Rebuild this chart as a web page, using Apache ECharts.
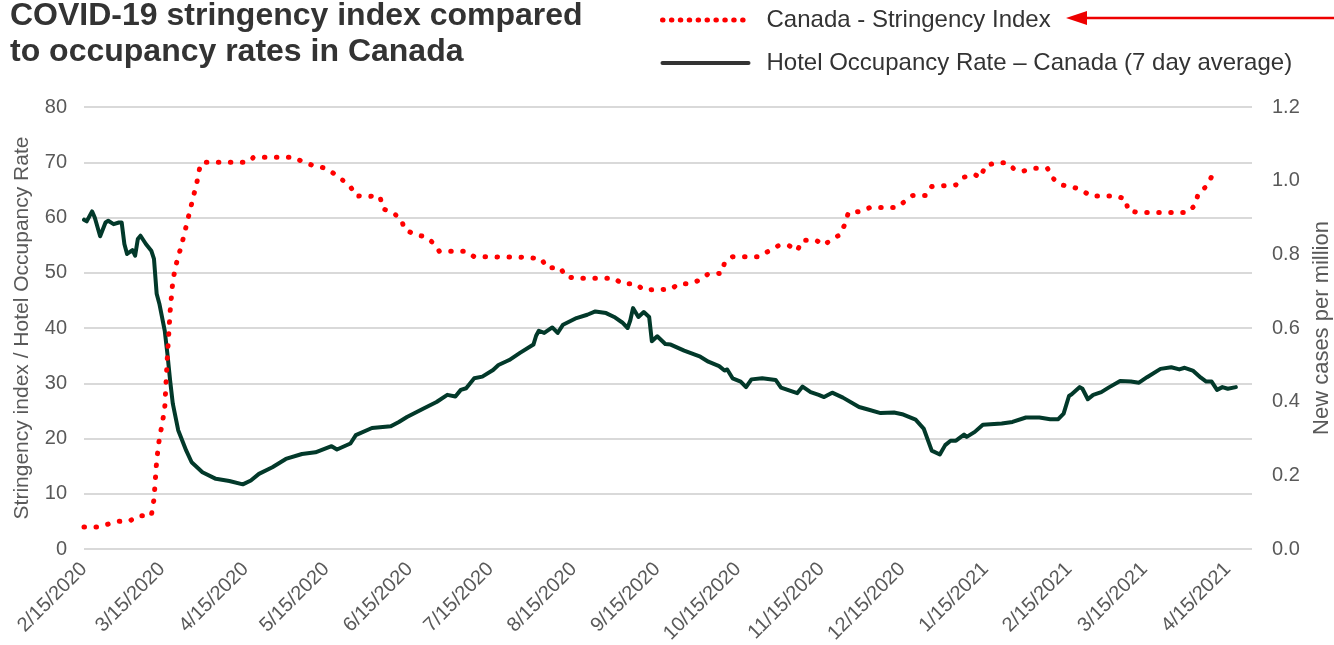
<!DOCTYPE html>
<html>
<head>
<meta charset="utf-8">
<script src="https://cdn.jsdelivr.net/npm/echarts@6/dist/echarts.min.js"></script>
<style>
  html, body { margin: 0; padding: 0; background: #ffffff; }
  #chart { width: 1334px; height: 645px; }
</style>
</head>
<body>
<div id="chart"></div>
<script>
// ---- Data ----
const tickDates = ['2020-02-15','2020-03-15','2020-04-15','2020-05-15','2020-06-15','2020-07-15','2020-08-15',
  '2020-09-15','2020-10-15','2020-11-15','2020-12-15','2021-01-15','2021-02-15','2021-03-15','2021-04-15'];

const stringencyDates = ['2020-02-15','2020-02-20','2020-02-24','2020-02-28','2020-03-03','2020-03-06','2020-03-11',
  '2020-03-12','2020-03-13','2020-03-14','2020-03-15','2020-03-16','2020-03-17','2020-03-18','2020-03-19','2020-03-20',
  '2020-03-21','2020-03-22','2020-03-23','2020-03-24','2020-03-25','2020-03-26','2020-03-27','2020-03-28','2020-03-29',
  '2020-03-30','2020-04-16','2020-04-18','2020-05-03','2020-05-07','2020-05-11','2020-05-15','2020-05-18','2020-05-21',
  '2020-05-24','2020-05-26','2020-06-04','2020-06-05','2020-06-09','2020-06-12','2020-06-13','2020-06-17','2020-06-21',
  '2020-06-24','2020-06-26','2020-07-06','2020-07-09','2020-07-28','2020-08-03','2020-08-05','2020-08-10','2020-08-12',
  '2020-08-16','2020-08-30','2020-09-02','2020-09-07','2020-09-10','2020-09-20','2020-09-23','2020-09-27','2020-10-01',
  '2020-10-04','2020-10-09','2020-10-10','2020-10-13','2020-10-23','2020-10-26','2020-10-30','2020-11-03','2020-11-06',
  '2020-11-08','2020-11-13','2020-11-16','2020-11-19','2020-11-22','2020-11-24','2020-11-25','2020-11-30','2020-12-03',
  '2020-12-13','2020-12-16','2020-12-19','2020-12-24','2020-12-26','2021-01-04','2021-01-07','2021-01-11','2021-01-13',
  '2021-01-15','2021-01-19','2021-01-23','2021-01-26','2021-01-29','2021-02-02','2021-02-07','2021-02-09','2021-02-12',
  '2021-02-16','2021-02-20','2021-02-23','2021-03-04','2021-03-08','2021-03-09','2021-03-13','2021-03-31','2021-04-03',
  '2021-04-04','2021-04-07','2021-04-09','2021-04-12'];
const stringencyValues = [4.0,4.0,4.5,5.0,5.1,6.0,6.0,
  9.0,16.0,20.0,22.5,25.5,35.0,43.0,48.5,51.0,
  53.0,54.5,56.5,58.5,60.5,62.5,64.5,66.5,69.0,
  70.0,70.0,70.9,70.9,69.9,69.3,68.9,67.9,66.8,
  65.6,63.9,63.8,61.6,60.8,59.6,57.9,56.9,56.5,
  55.3,53.9,53.9,52.9,52.8,52.5,50.9,50.9,49.3,
  49.0,49.0,48.0,48.0,46.9,47.0,48.0,48.0,48.7,
  49.8,49.9,51.8,52.9,52.9,53.8,54.9,54.9,54.0,
  55.9,55.9,55.0,56.1,56.9,59.1,60.9,61.1,61.8,
  61.8,62.9,64.0,64.0,65.6,65.9,67.3,67.8,67.2,
  69.4,69.9,69.9,68.6,68.4,68.9,68.9,67.1,65.9,
  65.6,64.9,63.9,63.9,63.4,61.2,60.9,60.9,62.3,
  64.4,65.6,67.4,67.9];

const hotelDates = ['2020-02-15','2020-02-16','2020-02-18','2020-02-19','2020-02-21','2020-02-23','2020-02-24','2020-02-26',
  '2020-02-28','2020-02-29','2020-03-01','2020-03-02','2020-03-04','2020-03-05','2020-03-06','2020-03-07','2020-03-09',
  '2020-03-11','2020-03-12','2020-03-13','2020-03-14','2020-03-16','2020-03-17','2020-03-18','2020-03-19','2020-03-21',
  '2020-03-24','2020-03-26','2020-03-30','2020-04-04','2020-04-09','2020-04-14','2020-04-17','2020-04-20','2020-04-25',
  '2020-04-30','2020-05-06','2020-05-11','2020-05-17','2020-05-19','2020-05-24','2020-05-26','2020-06-01','2020-06-08',
  '2020-06-11','2020-06-14','2020-06-20','2020-06-25','2020-06-29','2020-07-02','2020-07-04','2020-07-06','2020-07-09',
  '2020-07-12','2020-07-16','2020-07-18','2020-07-22','2020-07-26','2020-07-31','2020-08-01','2020-08-02','2020-08-04',
  '2020-08-07','2020-08-09','2020-08-11','2020-08-16','2020-08-20','2020-08-23','2020-08-27','2020-08-30','2020-09-02',
  '2020-09-04','2020-09-05','2020-09-06','2020-09-08','2020-09-10','2020-09-12','2020-09-13','2020-09-15','2020-09-18',
  '2020-09-20','2020-09-25','2020-10-01','2020-10-04','2020-10-08','2020-10-10','2020-10-11','2020-10-13','2020-10-16',
  '2020-10-18','2020-10-20','2020-10-24','2020-10-29','2020-10-31','2020-11-06','2020-11-08','2020-11-11','2020-11-14',
  '2020-11-16','2020-11-19','2020-11-23','2020-11-29','2020-12-02','2020-12-07','2020-12-12','2020-12-15','2020-12-20',
  '2020-12-23','2020-12-26','2020-12-29','2020-12-31','2021-01-02','2021-01-04','2021-01-07','2021-01-08','2021-01-11',
  '2021-01-14','2021-01-21','2021-01-25','2021-01-30','2021-02-04','2021-02-08','2021-02-11','2021-02-13','2021-02-15',
  '2021-02-16','2021-02-19','2021-02-20','2021-02-22','2021-02-24','2021-02-27','2021-03-02','2021-03-06','2021-03-10',
  '2021-03-13','2021-03-16','2021-03-21','2021-03-25','2021-03-28','2021-03-30','2021-04-02','2021-04-05','2021-04-07',
  '2021-04-09','2021-04-11','2021-04-13','2021-04-15','2021-04-18'];
const hotelValues = [59.6,59.3,61.1,60.0,56.6,59.1,59.4,58.8,
  59.1,59.1,55.2,53.4,54.1,53.1,56.1,56.7,55.2,
  54.0,52.5,46.2,44.4,39.5,35.3,30.5,26.3,21.5,
  17.8,15.7,13.9,12.7,12.3,11.7,12.4,13.6,14.8,
  16.3,17.2,17.5,18.6,18.0,19.1,20.6,21.9,22.2,
  23.0,23.9,25.4,26.6,27.9,27.6,28.8,29.1,30.9,
  31.2,32.4,33.3,34.2,35.5,37.0,38.6,39.5,39.1,
  40.1,39.1,40.6,41.8,42.4,43.0,42.7,42.0,41.0,
  40.0,41.4,43.6,42.0,42.9,42.0,37.6,38.5,37.1,
  37.0,35.9,34.8,33.9,33.1,32.3,32.5,30.9,30.3,
  29.3,30.7,30.9,30.6,29.2,28.2,29.4,28.4,27.9,
  27.5,28.3,27.4,25.7,25.3,24.6,24.7,24.4,23.4,
  21.8,17.8,17.1,18.8,19.6,19.6,20.7,20.3,21.2,
  22.5,22.7,23.0,23.8,23.8,23.5,23.5,24.5,27.7,
  28.0,29.3,29.0,27.1,27.9,28.4,29.3,30.4,30.3,
  30.1,31.1,32.6,32.9,32.5,32.8,32.3,31.0,30.3,
  30.3,28.8,29.3,29.0,29.3];

const axisStart = '2020-02-15';
const axisEnd = '2021-04-24';

// ---- helpers ----
function ts(s) { const p = s.split('-').map(Number); return new Date(p[0], p[1] - 1, p[2]).getTime(); }
function zip(dates, vals) { return dates.map((d, i) => [ts(d), vals[i]]); }
function fmtDate(v) { const d = new Date(v); return (d.getMonth() + 1) + '/' + d.getDate() + '/' + d.getFullYear(); }

const FONT = '"Liberation Sans", Arial, sans-serif';
const GREY = '#595959';
const RED = '#ff0000';
const GREEN = '#02392a';
const NAME_S = 'Canada - Stringency Index';
const NAME_H = 'Hotel Occupancy Rate \u2013 Canada (7 day average)';

const chart = echarts.init(document.getElementById('chart'), null, { renderer: 'canvas' });
const tickTs = tickDates.map(ts);

chart.setOption({
  animation: false,
  backgroundColor: '#ffffff',
  textStyle: { fontFamily: FONT },
  title: {
    text: 'COVID-19 stringency index compared\nto occupancy rates in Canada',
    left: 10, top: -2, padding: 0,
    textStyle: { fontFamily: FONT, fontSize: 32, fontWeight: 'bold', color: '#333333', lineHeight: 36 }
  },
  legend: {
    orient: 'vertical',
    left: 655, top: 2,
    itemWidth: 86, itemHeight: 14, itemGap: 17,
    textStyle: { fontFamily: FONT, fontSize: 24, color: '#333333', lineHeight: 26, padding: [0, 0, 0, 13] },
    data: [
      { name: NAME_S, itemStyle: { opacity: 0 }, lineStyle: { color: RED, width: 5, type: [0.5, 8.4], cap: 'round' } },
      { name: NAME_H, itemStyle: { opacity: 0 }, lineStyle: { color: '#333333', width: 4, type: 'solid' } }
    ]
  },
  grid: { left: 84, right: 82, top: 107, bottom: 96, containLabel: false, outerBoundsMode: 'none' },
  xAxis: {
    type: 'value',
    min: ts(axisStart), max: ts(axisEnd),
    axisLine: { show: false },
    axisTick: { show: false, customValues: tickTs },
    splitLine: { show: false },
    axisLabel: {
      customValues: tickTs,
      formatter: fmtDate,
      rotate: 45, margin: 17,
      fontFamily: FONT, fontSize: 20, color: GREY,
      hideOverlap: false, showMinLabel: true, showMaxLabel: true
    }
  },
  yAxis: [
    {
      type: 'value', min: 0, max: 80, interval: 10, position: 'left',
      name: 'Stringency index / Hotel Occupancy Rate',
      nameLocation: 'middle', nameGap: 51, nameRotate: 90,
      nameTextStyle: { fontFamily: FONT, fontSize: 21, color: GREY },
      axisLine: { show: false }, axisTick: { show: false },
      axisLabel: { fontFamily: FONT, fontSize: 20, color: GREY, margin: 17 },
      splitLine: { lineStyle: { color: '#d9d9d9', width: 2 } }
    },
    {
      type: 'value', min: 0, max: 1.2, interval: 0.2, position: 'right',
      name: 'New cases per million',
      nameLocation: 'middle', nameGap: 58, nameRotate: 90,
      nameTextStyle: { fontFamily: FONT, fontSize: 22, color: GREY },
      axisLine: { show: false }, axisTick: { show: false },
      axisLabel: { fontFamily: FONT, fontSize: 20, color: GREY, margin: 20, formatter: v => v.toFixed(1) },
      splitLine: { show: false }
    }
  ],
  series: [
    {
      name: NAME_H, type: 'line', yAxisIndex: 0,
      data: zip(hotelDates, hotelValues),
      symbol: 'none', smooth: false,
      lineStyle: { color: GREEN, width: 4, join: 'round', cap: 'round' },
      itemStyle: { color: GREEN },
      z: 2
    },
    {
      name: NAME_S, type: 'line', yAxisIndex: 0,
      data: zip(stringencyDates, stringencyValues),
      symbol: 'none', smooth: false,
      lineStyle: { color: RED, width: 5, type: [0.5, 11.5], cap: 'round', join: 'round' },
      itemStyle: { color: RED },
      z: 3
    }
  ],
  graphic: [
    {
      type: 'group', silent: true,
      children: [
        { type: 'line', shape: { x1: 1082, y1: 18, x2: 1334, y2: 18 }, style: { stroke: '#ee0000', lineWidth: 2.5 } },
        { type: 'polygon', shape: { points: [[1066, 18], [1087, 11], [1087, 25]] }, style: { fill: '#ee0000' } }
      ]
    }
  ]
});
</script>
</body>
</html>
